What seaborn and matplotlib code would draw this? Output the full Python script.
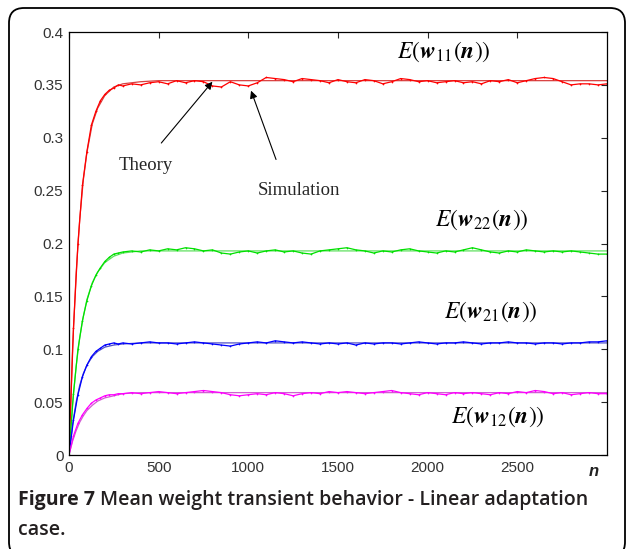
import numpy as np
import matplotlib
matplotlib.use("Agg")
import matplotlib.pyplot as plt
import seaborn as sns
from matplotlib.patches import FancyBboxPatch
from matplotlib.transforms import IdentityTransform

# Theory curves (smooth)
n_theory = [0, 20, 40, 60, 80, 100, 130, 160, 200, 250, 300, 400, 500, 3000]
w11_theory = [0, 0.100, 0.172, 0.223, 0.260, 0.286, 0.313, 0.328, 0.340, 0.348, 0.351, 0.353, 0.354, 0.354]
w22_theory = [0, 0.048, 0.084, 0.111, 0.131, 0.147, 0.163, 0.173, 0.182, 0.188, 0.191, 0.193, 0.193, 0.193]
w21_theory = [0, 0.029, 0.050, 0.066, 0.077, 0.085, 0.093, 0.098, 0.102, 0.104, 0.105, 0.106, 0.106, 0.106]
w12_theory = [0, 0.013, 0.023, 0.031, 0.037, 0.042, 0.047, 0.051, 0.054, 0.056, 0.058, 0.059, 0.059, 0.059]

# Simulation curves (noisy), sampled every 25 up to 300, then every 50
n_sim = list(range(0, 300, 25)) + list(range(300, 3001, 50))
w11_sim = [0.0, 0.120, 0.200, 0.255, 0.287, 0.312, 0.325, 0.335, 0.341, 0.345, 0.347, 0.350,
           0.349, 0.351, 0.350, 0.352, 0.353, 0.351, 0.354, 0.352, 0.354, 0.353,
           0.349, 0.348, 0.353, 0.350, 0.349, 0.352, 0.357, 0.356, 0.355, 0.353,
           0.356, 0.355, 0.354, 0.352, 0.355, 0.353, 0.352, 0.355, 0.354, 0.351,
           0.353, 0.356, 0.355, 0.353, 0.354, 0.352, 0.353, 0.354, 0.352, 0.353,
           0.351, 0.354, 0.353, 0.355, 0.352, 0.354, 0.356, 0.357, 0.356, 0.353,
           0.350, 0.351, 0.351, 0.350, 0.351]
w22_sim = [0.0, 0.058, 0.100, 0.127, 0.146, 0.160, 0.170, 0.177, 0.183, 0.187, 0.190, 0.191,
           0.192, 0.193, 0.192, 0.194, 0.193, 0.195, 0.194, 0.196, 0.195, 0.193,
           0.194, 0.191, 0.190, 0.192, 0.193, 0.191, 0.193, 0.194, 0.192, 0.193,
           0.191, 0.190, 0.193, 0.194, 0.195, 0.196, 0.194, 0.193, 0.191, 0.193,
           0.192, 0.194, 0.195, 0.193, 0.192, 0.191, 0.193, 0.192, 0.194, 0.196,
           0.194, 0.192, 0.191, 0.193, 0.192, 0.194, 0.193, 0.192, 0.193, 0.192,
           0.193, 0.192, 0.191, 0.190, 0.190]
w21_sim = [0.0, 0.033, 0.057, 0.074, 0.085, 0.093, 0.098, 0.101, 0.104, 0.105, 0.106, 0.105,
           0.106, 0.105, 0.106, 0.107, 0.106, 0.106, 0.105, 0.106, 0.107, 0.106,
           0.105, 0.104, 0.103, 0.105, 0.106, 0.107, 0.106, 0.108, 0.107, 0.106,
           0.107, 0.106, 0.105, 0.106, 0.105, 0.106, 0.104, 0.106, 0.105, 0.106,
           0.106, 0.105, 0.106, 0.107, 0.106, 0.105, 0.106, 0.106, 0.107, 0.106,
           0.105, 0.106, 0.106, 0.107, 0.106, 0.106, 0.105, 0.106, 0.106, 0.105,
           0.106, 0.106, 0.107, 0.107, 0.108]
w12_sim = [0.0, 0.018, 0.030, 0.038, 0.044, 0.049, 0.052, 0.054, 0.056, 0.057, 0.057, 0.058,
           0.058, 0.059, 0.058, 0.059, 0.060, 0.059, 0.058, 0.059, 0.060, 0.061,
           0.060, 0.059, 0.057, 0.056, 0.057, 0.058, 0.057, 0.059, 0.058, 0.056,
           0.058, 0.059, 0.058, 0.060, 0.059, 0.060, 0.059, 0.058, 0.059, 0.060,
           0.061, 0.059, 0.058, 0.057, 0.059, 0.058, 0.057, 0.059, 0.058, 0.059,
           0.058, 0.057, 0.059, 0.058, 0.060, 0.059, 0.061, 0.060, 0.058, 0.059,
           0.057, 0.058, 0.059, 0.058, 0.058]

series = [
    (w11_theory, w11_sim, "#ff0000", "#d84040"),
    (w22_theory, w22_sim, "#00e000", "#60e060"),
    (w21_theory, w21_sim, "#0000ff", "#5050c8"),
    (w12_theory, w12_sim, "#ff00ff", "#d060d0"),
]

sns.set_style("white")
plt.rcParams["font.family"] = ["Liberation Sans", "DejaVu Sans"]
plt.rcParams["mathtext.fontset"] = "stix"

fig = plt.figure(figsize=(6.27, 5.49), dpi=100)
ax = fig.add_axes([0.110, 0.1712, 0.858, 0.7705])

for theory, sim, c_sim, c_th in series:
    sns.lineplot(x=n_theory, y=theory, ax=ax, color=c_th, lw=0.9)
    sns.lineplot(x=n_sim, y=sim, ax=ax, color=c_sim, lw=0.9,
                 marker=".", markersize=2.5, markeredgewidth=0)

ax.set_xlim(0, 3000)
ax.set_ylim(0, 0.4)
ax.set_xticks([0, 500, 1000, 1500, 2000, 2500])
yt = [0, 0.05, 0.1, 0.15, 0.2, 0.25, 0.3, 0.35, 0.4]
ax.set_yticks(yt)
ax.set_yticklabels([f"{v:g}" for v in yt])
ax.tick_params(direction="in", top=True, right=True, length=4, width=0.8,
               labelsize=11, labelcolor="#333333", pad=4)
for s in ax.spines.values():
    s.set_color("black")
    s.set_linewidth(0.9)

ax.text(2925, -0.016, "n", fontsize=12, style="italic", weight="bold", ha="center", va="center",
        color="#222222", clip_on=False)

# curve labels
lab_kw = dict(fontsize=17, ha="center", va="center", color="black")
ax.text(2090, 0.381, r"$E(\mathbfit{w}_{11}(\mathbfit{n}))$", **lab_kw)
ax.text(2305, 0.222, r"$E(\mathbfit{w}_{22}(\mathbfit{n}))$", **lab_kw)
ax.text(2350, 0.135, r"$E(\mathbfit{w}_{21}(\mathbfit{n}))$", **lab_kw)
ax.text(2390, 0.036, r"$E(\mathbfit{w}_{12}(\mathbfit{n}))$", **lab_kw)

arrow = dict(arrowstyle="-|>", color="black", lw=0.8, mutation_scale=11)
ax.text(430, 0.274, "Theory", fontsize=13.5, family="Liberation Serif",
        ha="center", va="center")
ax.annotate("", xy=(810, 0.355), xytext=(505, 0.293), arrowprops=arrow)
ax.text(1280, 0.250, "Simulation", fontsize=13.5, family="Liberation Serif",
        ha="center", va="center")
ax.annotate("", xy=(1010, 0.347), xytext=(1160, 0.277), arrowprops=arrow)

# rounded frame
frame = FancyBboxPatch((9, -8), 616, 549, boxstyle="round,pad=0,rounding_size=15",
                       transform=IdentityTransform(), fill=False, ec="black", lw=1.3)
fig.patches.append(frame)

# caption
cap_kw = dict(fontsize=14, family=["Open Sans", "DejaVu Sans"], color="#231f20", va="baseline")
t1 = fig.text(18 / 627, 44 / 549, "Figure 7", weight="bold", **cap_kw)
r = fig.canvas.get_renderer()
bb = t1.get_window_extent(r)
fig.text((bb.x1 + 5) / 627, 44 / 549, "Mean weight transient behavior - Linear adaptation",
         weight="semibold", **cap_kw)
fig.text(18 / 627, 14 / 549, "case.", weight="semibold", **cap_kw)

fig.savefig("out.png", dpi=100)
